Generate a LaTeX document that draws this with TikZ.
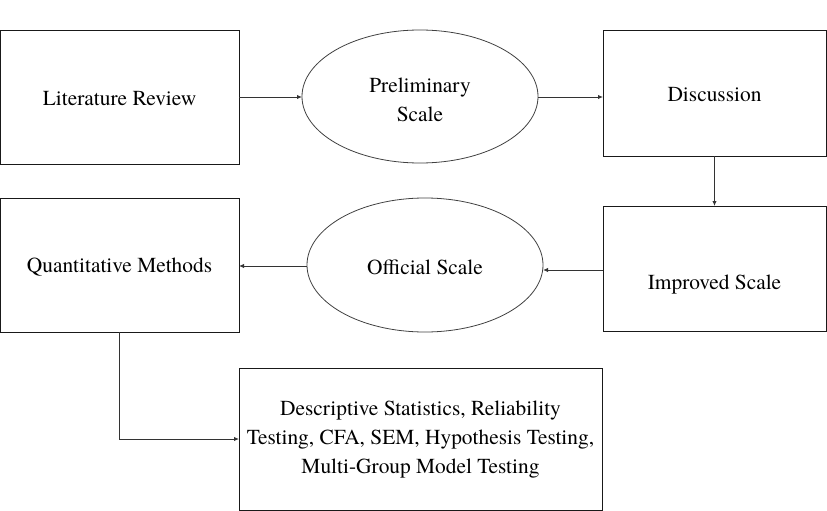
\documentclass[tikz,border=0pt]{standalone}
\usepackage{fontspec}
\setmainfont{texgyretermes-regular.otf}
\usetikzlibrary{arrows.meta,shapes.geometric}
\begin{document}
\begin{tikzpicture}[x=1pt,y=-1pt,
  every node/.style={font=\fontsize{21.4}{29}\selectfont, inner sep=0pt, outer sep=0pt},
  boxnode/.style={draw=black!90, line width=1pt, rectangle, align=center},
  ellnode/.style={draw=black!75, line width=0.8pt, ellipse, align=center},
  txt/.style={align=center},
  conn/.style={draw=black!80, line width=1pt, -{Latex[length=5pt,width=4.5pt]}}]
\useasboundingbox (0,0) rectangle (827,511);
\node[boxnode, minimum width=239pt, minimum height=133pt] (lit) at (119.5,97.5) {};
\node[txt] at (119.5,99) {Literature Review};
\node[ellnode, minimum width=236pt, minimum height=133pt] (pre) at (420,96.5) {};
\node[txt] at (420,100) {Preliminary\\Scale};
\node[boxnode, minimum width=223pt, minimum height=125pt] (dis) at (714.5,93.5) {};
\node[txt] at (714.5,95) {Discussion};
\node[boxnode, minimum width=223pt, minimum height=125pt] (imp) at (714.5,268.5) {};
\node[txt] at (714.5,285) {Improved Scale};
\node[ellnode, minimum width=236pt, minimum height=134pt] (off) at (425,265) {};
\node[txt] at (425,267) {Official Scale};
\node[boxnode, minimum width=239pt, minimum height=134pt] (qua) at (119.5,265) {};
\node[txt] at (119.5,267) {Quantitative Methods};
\node[boxnode, minimum width=363pt, minimum height=142pt] (des) at (420.5,439) {};
\node[txt] at (420.5,440) {Descriptive Statistics, Reliability\\Testing, CFA, SEM, Hypothesis Testing,\\Multi-Group Model Testing};
\draw[conn] (lit.east |- 0,97) -- (pre.west |- 0,97);
\draw[conn] (pre.east |- 0,97) -- (dis.west |- 0,97);
\draw[conn] (dis.south) -- (imp.north);
\draw[conn] (imp.west |- 0,270) -- (off.east |- 0,270);
\draw[conn] (off.west |- 0,266) -- (qua.east |- 0,266);
\draw[conn] (qua.south) |- (des.west |- 0,439);
\end{tikzpicture}
\end{document}
